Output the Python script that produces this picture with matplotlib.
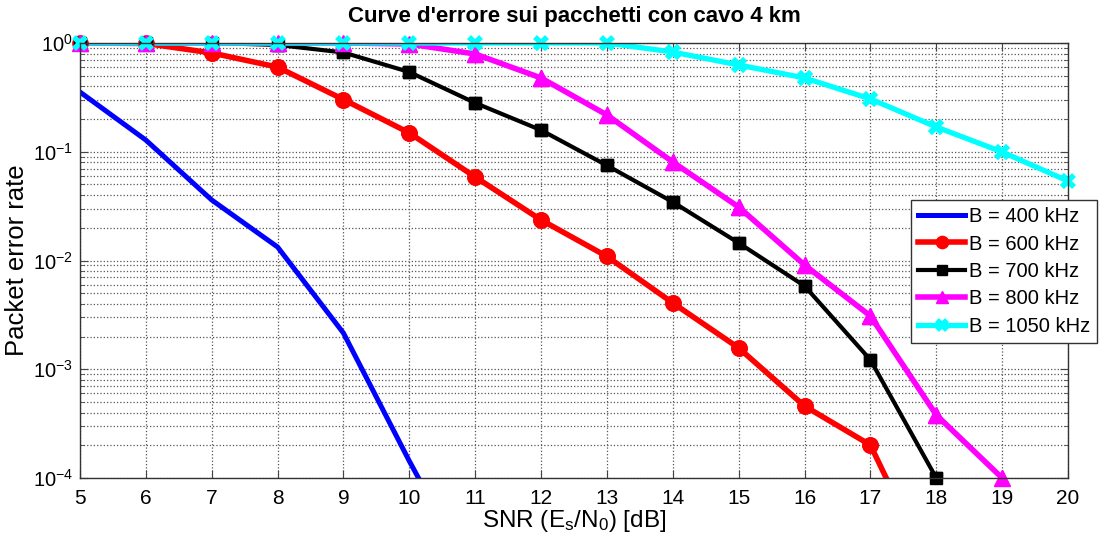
import numpy as np
import matplotlib
matplotlib.use("Agg")
import matplotlib.pyplot as plt
from matplotlib.ticker import LogLocator, FixedLocator

plt.rcParams['font.family'] = ['Liberation Sans', 'DejaVu Sans']
plt.rcParams['mathtext.fontset'] = 'custom'
plt.rcParams['mathtext.rm'] = 'Liberation Sans'
plt.rcParams['mathtext.it'] = 'Liberation Sans'

snr_400 = [5, 6, 7, 8, 9, 10, 11]
per_400 = [0.354, 0.128, 0.036, 0.0133, 0.00215, 1.43e-4, 1.1e-5]

snr_600 = [5, 6, 7, 8, 9, 10, 11, 12, 13, 14, 15, 16, 17, 18]
per_600 = [1.0, 0.99, 0.81, 0.60, 0.302, 0.149, 0.0586, 0.0236, 0.0109,
           0.00407, 0.00157, 4.59e-4, 2.01e-4, 1.1e-5]

snr_700 = [5, 6, 7, 8, 9, 10, 11, 12, 13, 14, 15, 16, 17, 18]
per_700 = [1.0, 1.0, 1.0, 0.96, 0.818, 0.541, 0.281, 0.158, 0.0748,
           0.0345, 0.0145, 0.00583, 0.00122, 1.0e-4]

snr_800 = [5, 6, 7, 8, 9, 10, 11, 12, 13, 14, 15, 16, 17, 18, 19]
per_800 = [1.0, 1.0, 1.0, 1.0, 1.0, 0.98, 0.792, 0.477, 0.218, 0.0805,
           0.031, 0.0091, 0.00309, 3.8e-4, 1.0e-4]

snr_1050 = [5, 6, 7, 8, 9, 10, 11, 12, 13, 14, 15, 16, 17, 18, 19, 20]
per_1050 = [1.0, 1.0, 1.0, 1.0, 1.0, 1.0, 1.0, 1.0, 1.0, 0.826, 0.628,
            0.477, 0.306, 0.169, 0.0995, 0.0538]

labels = ['B = 400 kHz', 'B = 600 kHz', 'B = 700 kHz', 'B = 800 kHz', 'B = 1050 kHz']
x_ticks = list(range(5, 21))

series = [
    (snr_400, per_400, dict(color='#0000ff', lw=3.6, marker=None)),
    (snr_600, per_600, dict(color='#ff0000', lw=4.0, marker='o', ms=11)),
    (snr_700, per_700, dict(color='#000000', lw=3.0, marker='s', ms=9)),
    (snr_800, per_800, dict(color='#ff00ff', lw=4.0, marker='^', ms=11)),
    (snr_1050, per_1050, dict(color='#00ffff', lw=3.8, marker='x', ms=9, mew=4)),
]

fig = plt.figure(figsize=(11.05, 5.42), dpi=100)
ax = fig.add_axes([80/1105, 1-478/542, (1068-80)/1105, (478-43)/542])
ax.set_yscale('log')
ax.set_xlim(5, 20)
ax.set_ylim(1e-4, 1)

for (x, y, st), lab in zip(series, labels):
    ax.plot(x, y, label=lab, zorder=3, **st)
    if st.get('marker'):
        xa = np.array(x, float)
        ya = np.array(y, float)
        keep = (ya >= 1e-4 * 0.999) & (ya <= 1.0001)
        mk = {k: v for k, v in st.items() if k in ('color', 'marker', 'ms', 'mew')}
        ax.plot(xa[keep], ya[keep], ls='none', clip_on=False, zorder=4, **mk)

ax.xaxis.set_major_locator(FixedLocator(x_ticks))
ax.yaxis.set_major_locator(LogLocator(base=10, numticks=10))
ax.yaxis.set_minor_locator(LogLocator(base=10, subs=np.arange(2, 10), numticks=10))

ax.grid(True, which='major', linestyle=':', color='#555555', lw=0.9)
ax.grid(True, which='minor', axis='y', linestyle=':', color='#555555', lw=0.9)

ax.tick_params(which='both', direction='in', top=True, right=True, color='#444444')
ax.tick_params(axis='x', labelsize=15, pad=8)
ax.tick_params(axis='y', labelsize=14.5, pad=5)
ax.tick_params(which='major', length=6)
ax.tick_params(which='minor', length=3)
for s in ax.spines.values():
    s.set_color('#333333')
    s.set_linewidth(1.0)
    s.set_zorder(5)

ax.set_xlabel(r'SNR (E$_\mathrm{s}$/N$_\mathrm{0}$) [dB]', fontsize=17.5, labelpad=0)
ax.set_ylabel('Packet error rate', fontsize=18.5, labelpad=3)
ax.set_title("Curve d'errore sui pacchetti con cavo 4 km", fontsize=16, fontweight='bold', pad=15)

leg = ax.legend(loc='upper right', bbox_to_anchor=(1097/1105, 1-200/542),
                bbox_transform=fig.transFigure, borderaxespad=0, fontsize=14.5,
                fancybox=False, framealpha=1, edgecolor='#333333', handlelength=2.3,
                handletextpad=0.2, labelspacing=0.42, borderpad=0.35, markerscale=0.8)
leg.get_frame().set_linewidth(1.0)
leg.set_zorder(10)

fig.savefig('out.png', dpi=100, facecolor='white')
